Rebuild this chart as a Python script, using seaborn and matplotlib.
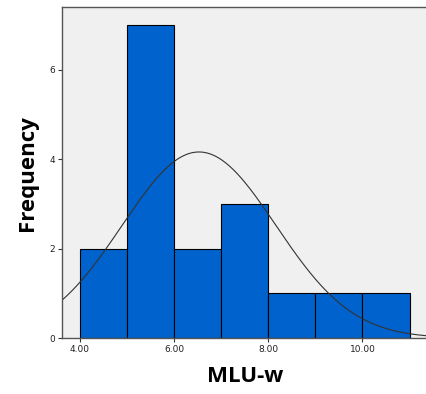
import numpy as np
import matplotlib
matplotlib.use("Agg")
from matplotlib import pyplot as plt
import seaborn as sns

# histogram of MLU-w (bin width 1.0)
bin_edges = [4, 5, 6, 7, 8, 9, 10, 11]
counts = [2, 7, 2, 3, 1, 1, 1]
# fitted normal curve parameters
mean_mlu = 6.53
sd_mlu = 1.63
n_total = sum(counts)

x_ticks = [4, 6, 8, 10]
y_ticks = [0, 2, 4, 6]

sns.set_style("ticks")
plt.rcParams['font.family'] = ['DejaVu Sans']

fig = plt.figure(figsize=(4.26, 3.94), dpi=100)
ax = fig.add_axes([0.1455, 0.142, 0.86, 0.840])
ax.set_facecolor('#f0f0f0')

centers = [(a + b) / 2 for a, b in zip(bin_edges[:-1], bin_edges[1:])]
sns.histplot(x=centers, weights=counts, bins=bin_edges, ax=ax,
             color='#0062cc', alpha=1, edgecolor='black', linewidth=0.8)

# normal curve scaled to counts
xs = np.linspace(3.5, 11.6, 300)
width = bin_edges[1] - bin_edges[0]
ys = n_total * width / (sd_mlu * np.sqrt(2 * np.pi)) * np.exp(-(xs - mean_mlu) ** 2 / (2 * sd_mlu ** 2))
sns.lineplot(x=xs, y=ys, ax=ax, color='#333333', linewidth=0.8)

ax.set_xlim(3.62, 11.4)
ax.set_ylim(0, 7.4)
ax.set_xticks(x_ticks)
ax.set_xticklabels([f'{t:.2f}' for t in x_ticks])
ax.set_yticks(y_ticks)
ax.tick_params(labelsize=6.5, length=3, width=0.8, colors='#333333', labelcolor='#222222', pad=2)

for side in ['left', 'top', 'bottom', 'right']:
    ax.spines[side].set_color('#555555')
    ax.spines[side].set_linewidth(1.0)

ax.set_xlabel('MLU-w', fontsize=16, fontweight='bold', family='Open Sans', color='black', labelpad=9)
ax.set_ylabel('Frequency', fontsize=16, fontweight='bold', family='Open Sans', color='black', labelpad=8)

fig.savefig('out.png', dpi=100)
